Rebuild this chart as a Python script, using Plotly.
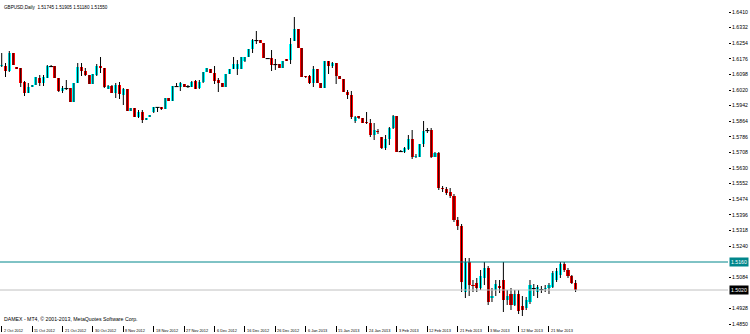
import plotly.graph_objects as go

opens = [1.6140,1.6140,1.6115,1.6205,1.6135,1.6130,1.6060,1.6005,1.6035,1.6045,
         1.6080,1.6055,1.6080,1.6140,1.6140,1.6080,1.6015,1.6025,1.6030,1.5960,
         1.6055,1.6135,1.6115,1.6095,1.6050,1.6095,1.6140,1.6130,1.6025,1.6040,
         1.6005,1.6045,1.5995,1.6025,1.5915,1.5930,1.5885,1.5910,1.5870,1.5885,
         1.5910,1.5930,1.5935,1.5925,1.5980,1.5965,1.6040,1.6035,1.6050,1.6035,
         1.6035,1.6065,1.6030,1.6060,1.6110,1.6125,1.6105,1.6070,1.6055,1.6035,
         1.6100,1.6125,1.6125,1.6125,1.6165,1.6185,1.6225,1.6270,1.6270,1.6255,
         1.6180,1.6180,1.6150,1.6150,1.6130,1.6175,1.6170,1.6265,1.6325,1.6230,
         1.6090,1.6090,1.6055,1.6125,1.6055,1.6030,1.6165,1.6140,1.6155,1.6090,
         1.6075,1.6010,1.5995,1.5865,1.5890,1.5880,1.5860,1.5855,1.5795,1.5815,
         1.5785,1.5730,1.5775,1.5830,1.5890,1.5715,1.5710,1.5725,1.5775,1.5685,
         1.5685,1.5750,1.5815,1.5820,1.5685,1.5705,1.5530,1.5525,1.5510,1.5490,
         1.5370,1.5340,1.5010,1.5160,1.5045,1.5055,1.5030,1.5080,1.5130,1.4980,
         1.5020,1.5040,1.5070,1.4970,1.5000,1.4945,1.5000,1.4940,1.4930,1.4960,
         1.5030,1.5010,1.5020,1.5025,1.5030,1.5035,1.5070,1.5095,1.5150,1.5120,
         1.5090,1.5055]
highs = [1.6205,1.6155,1.6215,1.6205,1.6135,1.6130,1.6065,1.6055,1.6045,1.6085,
         1.6095,1.6095,1.6145,1.6145,1.6140,1.6080,1.6040,1.6070,1.6030,1.6055,
         1.6155,1.6155,1.6130,1.6095,1.6100,1.6150,1.6185,1.6130,1.6045,1.6045,
         1.6055,1.6060,1.6030,1.6025,1.5930,1.5930,1.5920,1.5920,1.5880,1.5895,
         1.5935,1.5935,1.5935,1.5980,1.5980,1.6040,1.6055,1.6060,1.6050,1.6045,
         1.6065,1.6070,1.6070,1.6110,1.6130,1.6125,1.6140,1.6080,1.6055,1.6100,
         1.6125,1.6185,1.6170,1.6185,1.6185,1.6225,1.6275,1.6315,1.6270,1.6255,
         1.6180,1.6220,1.6175,1.6150,1.6165,1.6175,1.6280,1.6385,1.6325,1.6230,
         1.6090,1.6095,1.6140,1.6125,1.6055,1.6165,1.6165,1.6160,1.6155,1.6090,
         1.6075,1.6020,1.6015,1.5890,1.5890,1.5880,1.5910,1.5875,1.5855,1.5825,
         1.5785,1.5795,1.5835,1.5895,1.5890,1.5720,1.5735,1.5795,1.5820,1.5700,
         1.5750,1.5865,1.5830,1.5830,1.5710,1.5710,1.5540,1.5535,1.5530,1.5500,
         1.5385,1.5350,1.5180,1.5180,1.5070,1.5080,1.5120,1.5160,1.5140,1.5030,
         1.5070,1.5070,1.5160,1.5020,1.5030,1.5020,1.5020,1.4990,1.4985,1.5070,
         1.5050,1.5045,1.5040,1.5045,1.5055,1.5115,1.5130,1.5160,1.5160,1.5130,
         1.5095,1.5070]
lows = [1.6135,1.6085,1.6110,1.6145,1.6125,1.6035,1.5990,1.6005,1.6035,1.6045,
        1.6040,1.6040,1.6080,1.6135,1.6080,1.6010,1.6005,1.6020,1.5960,1.5960,
        1.6055,1.6090,1.6090,1.6050,1.6050,1.6090,1.6105,1.6030,1.6025,1.6005,
        1.5980,1.5975,1.5945,1.5915,1.5915,1.5885,1.5880,1.5855,1.5870,1.5885,
        1.5905,1.5910,1.5920,1.5925,1.5965,1.5965,1.6035,1.6015,1.6035,1.6030,
        1.6035,1.6025,1.6025,1.6055,1.6110,1.6105,1.6050,1.6010,1.6035,1.6035,
        1.6100,1.6125,1.6095,1.6125,1.6160,1.6185,1.6205,1.6250,1.6255,1.6180,
        1.6175,1.6115,1.6120,1.6130,1.6130,1.6165,1.6150,1.6265,1.6230,1.6085,
        1.6080,1.6050,1.6035,1.6055,1.6030,1.6030,1.6100,1.6130,1.6050,1.6075,
        1.6010,1.5975,1.5875,1.5855,1.5875,1.5855,1.5850,1.5785,1.5770,1.5800,
        1.5725,1.5720,1.5745,1.5825,1.5710,1.5710,1.5705,1.5720,1.5675,1.5680,
        1.5685,1.5735,1.5805,1.5680,1.5685,1.5520,1.5510,1.5495,1.5480,1.5360,
        1.5320,1.5010,1.4980,1.4990,1.5010,1.5010,1.5020,1.5045,1.4945,1.4960,
        1.4990,1.5005,1.4910,1.4945,1.4920,1.4940,1.4900,1.4890,1.4920,1.4950,
        1.4990,1.4980,1.5005,1.5010,1.5000,1.5030,1.5060,1.5080,1.5110,1.5080,
        1.5050,1.5010]
closes = [1.6145,1.6115,1.6205,1.6145,1.6125,1.6055,1.6005,1.6035,1.6045,1.6085,
          1.6055,1.6085,1.6140,1.6137,1.6080,1.6015,1.6030,1.6027,1.5960,1.6055,
          1.6135,1.6115,1.6095,1.6050,1.6100,1.6140,1.6130,1.6035,1.6040,1.6005,
          1.6045,1.6000,1.6025,1.5915,1.5930,1.5885,1.5910,1.5870,1.5880,1.5895,
          1.5935,1.5933,1.5925,1.5980,1.5965,1.6040,1.6037,1.6055,1.6035,1.6037,
          1.6060,1.6025,1.6060,1.6110,1.6130,1.6105,1.6065,1.6055,1.6035,1.6100,
          1.6125,1.6150,1.6150,1.6185,1.6185,1.6225,1.6270,1.6267,1.6255,1.6180,
          1.6177,1.6145,1.6147,1.6130,1.6165,1.6165,1.6250,1.6325,1.6230,1.6085,
          1.6085,1.6055,1.6125,1.6055,1.6030,1.6165,1.6140,1.6155,1.6090,1.6075,
          1.6010,1.5995,1.5885,1.5885,1.5880,1.5855,1.5855,1.5795,1.5820,1.5810,
          1.5730,1.5775,1.5830,1.5890,1.5710,1.5712,1.5730,1.5775,1.5685,1.5690,
          1.5750,1.5815,1.5817,1.5685,1.5705,1.5530,1.5525,1.5505,1.5490,1.5370,
          1.5340,1.5060,1.5160,1.5045,1.5040,1.5030,1.5090,1.5130,1.4960,1.4990,
          1.5050,1.5030,1.4970,1.4990,1.4945,1.5000,1.4915,1.4920,1.4970,1.5045,
          1.5027,1.5035,1.5022,1.5030,1.5045,1.5105,1.5115,1.5150,1.5120,1.5090,
          1.5055,1.5020]

date_labels = ["2 Oct 2012", "11 Oct 2012", "21 Oct 2012", "30 Oct 2012", "8 Nov 2012",
               "18 Nov 2012", "27 Nov 2012", "6 Dec 2012", "16 Dec 2012", "26 Dec 2012",
               "6 Jan 2013", "15 Jan 2013", "24 Jan 2013", "3 Feb 2013", "12 Feb 2013",
               "21 Feb 2013", "3 Mar 2013", "12 Mar 2013", "21 Mar 2013"]
price_ticks = [round(1.6410 - 0.0078 * i, 4) for i in range(21)]
hline_price = 1.5160
title_text = "GBPUSD,Daily  1.51745 1.51905 1.51180 1.51550"
footer_text = "DAMEX - MT4, \u00a9 2001-2013, MetaQuotes Software Corp."

BULL, BEAR = "#00FFFF", "#FF0000"
TEAL = "#00868B"
FONT = "Liberation Sans"

n = len(closes)
idx = list(range(n))

# wicks
wx, wy = [], []
for i, (h, l) in enumerate(zip(highs, lows)):
    wx += [i, i, None]
    wy += [l, h, None]

fig = go.Figure()
fig.add_trace(go.Scatter(x=wx, y=wy, mode="lines", line=dict(color="black", width=1),
                         hoverinfo="skip", showlegend=False))
fig.add_trace(go.Bar(x=idx, y=[abs(c - o) for o, c in zip(opens, closes)],
                     base=[min(o, c) for o, c in zip(opens, closes)],
                     width=0.8,
                     marker=dict(color=[BULL if c >= o else BEAR for o, c in zip(opens, closes)],
                                 line=dict(width=0)),
                     hoverinfo="skip", showlegend=False))
# doji marks
dj = [i for i in idx if abs(closes[i] - opens[i]) < 0.0004]
fig.add_trace(go.Scatter(x=dj, y=[closes[i] for i in dj], mode="markers",
                         marker=dict(symbol="line-ew", size=3, line=dict(color="black", width=1)),
                         hoverinfo="skip", showlegend=False))

fig.add_hline(y=hline_price, line=dict(color=TEAL, width=1))
fig.add_hline(y=closes[-1], line=dict(color="#C0C0C0", width=1))

ann = []
ann.append(dict(xref="paper", yref="paper", x=0, y=1, xanchor="left", yanchor="top",
                xshift=2, yshift=-3, text=title_text, showarrow=False,
                font=dict(family=FONT, size=4.6, color="black")))
ann.append(dict(xref="paper", yref="paper", x=0, y=0, xanchor="left", yanchor="bottom",
                xshift=2, yshift=1, text=footer_text, showarrow=False,
                font=dict(family=FONT, size=5.2, color="black")))
for i, lab in enumerate(date_labels):
    ann.append(dict(xref="x", yref="paper", x=i * 8, y=0, xanchor="left", yanchor="top",
                    xshift=0, yshift=-1, text=lab, showarrow=False,
                    font=dict(family=FONT, size=3.9, color="black")))
ann.append(dict(xref="paper", yref="y", x=1, y=hline_price, xanchor="left", yanchor="middle",
                xshift=1, text=f"{hline_price:.4f}", showarrow=False, bgcolor=TEAL,
                borderpad=1, font=dict(family=FONT, size=5.2, color="white")))
ann.append(dict(xref="paper", yref="y", x=1, y=closes[-1], xanchor="left", yanchor="middle",
                xshift=1, text=f"{closes[-1]:.4f}", showarrow=False, bgcolor="black",
                borderpad=1, font=dict(family=FONT, size=5.2, color="white")))

# skip price labels hidden behind the two price boxes
shown_ticks = [v for v in price_ticks
               if abs(v - hline_price) > 0.0035 and abs(v - closes[-1]) > 0.0035]

fig.update_layout(
    width=750, height=334,
    margin=dict(l=0, r=22, t=0, b=9),
    paper_bgcolor="white", plot_bgcolor="white",
    annotations=ann, bargap=0,
    xaxis=dict(range=[-0.45, 191.1], showgrid=False,
               zeroline=False, showline=False, tickvals=[i * 8 for i in range(len(date_labels))],
               ticktext=[""] * len(date_labels), ticks="outside", ticklen=6,
               tickcolor="black", tickwidth=1),
    yaxis=dict(range=[1.4845, 1.6470], side="right", showgrid=False, zeroline=False,
               showline=False, tickvals=shown_ticks, ticktext=[f"{v:.4f}" for v in shown_ticks],
               ticks="outside", ticklen=2, tickcolor="black",
               tickfont=dict(family=FONT, size=5.2, color="black")),
)

fig.write_html("out.html")
